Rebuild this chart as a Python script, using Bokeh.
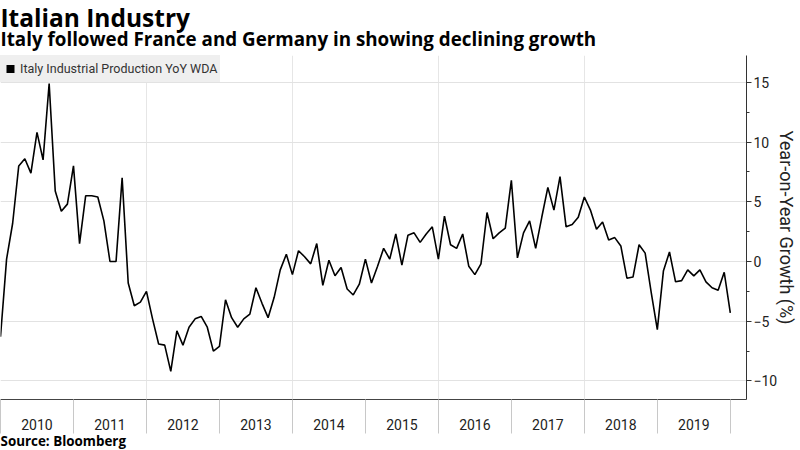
from bokeh.plotting import figure
from bokeh.models import (Range1d, FixedTicker, Title, Legend, LegendItem,
                          ColumnDataSource)
from bokeh.embed import file_html
from bokeh.resources import INLINE

# Italy industrial production, year-on-year growth (%), monthly,
# Dec 2009 through Dec 2019 (each value placed at its month end)
start_year = 2010
values = [
    -6.3, 0.2, 3.2, 8.0, 8.6, 7.4, 10.8, 8.5, 14.9, 5.9, 4.2, 4.8,
    8.0, 1.5, 5.5, 5.5, 5.4, 3.4, 0.0, 0.0, 7.0, -1.8, -3.7, -3.4,
    -2.5, -4.8, -6.9, -7.0, -9.2, -5.8, -7.0, -5.5, -4.8, -4.6, -5.5, -7.5,
    -7.1, -3.2, -4.7, -5.5, -4.8, -4.4, -2.2, -3.5, -4.7, -3.0, -0.7, 0.6,
    -1.1, 0.9, 0.4, -0.2, 1.5, -2.0, 0.1, -1.2, -0.5, -2.3, -2.8, -1.9,
    0.2, -1.8, -0.4, 1.1, 0.2, 2.3, -0.3, 2.2, 2.4, 1.6, 2.3, 2.9,
    0.2, 3.8, 1.4, 1.1, 2.3, -0.4, -1.1, -0.2, 4.1, 1.9, 2.4, 2.8,
    6.8, 0.3, 2.4, 3.4, 1.1, 3.7, 6.2, 4.3, 7.1, 2.9, 3.1, 3.7,
    5.4, 4.3, 2.7, 3.3, 1.8, 2.0, 1.3, -1.4, -1.3, 1.4, 0.7, -2.6,
    -5.7, -0.8, 0.8, -1.7, -1.6, -0.7, -1.2, -0.7, -1.7, -2.2, -2.4, -0.9,
    -4.3,
]
years = list(range(2010, 2020))
year_labels = [str(y) for y in years]
y_ticks = [-10, -5, 0, 5, 10, 15]
y_minor_ticks = [-7.5, -2.5, 2.5, 7.5, 12.5]
series_name = "Italy Industrial Production YoY WDA"
title_text = "Italian Industry"
subtitle_text = "Italy followed France and Germany in showing declining growth"
source_text = "Source: Bloomberg"

source = ColumnDataSource(data=dict(
    x=[start_year + i / 12 for i in range(len(values))],
    y=values,
))

p = figure(width=800, height=450, output_backend="svg", toolbar_location=None,
           x_range=Range1d(2010.0, 2020.222), y_range=Range1d(-11.55, 17.24),
           y_axis_location="right",
           min_border_left=0, min_border_right=53,
           min_border_top=55, min_border_bottom=51,
           background_fill_color="white", border_fill_color="white")
p.outline_line_color = None

# year labels centred between long boundary ticks
xa = p.xaxis[0]
mids = [y + 0.5 for y in years]
xa.ticker = FixedTicker(ticks=mids, minor_ticks=list(range(2010, 2021)))
xa.major_label_overrides = {m: lab for m, lab in zip(mids, year_labels)}
xa.major_tick_out = 0
xa.major_tick_in = 0
xa.minor_tick_out = 34
xa.minor_tick_in = 0
xa.minor_tick_line_color = "#c8c8c8"
xa.axis_line_color = "#444444"
xa.major_label_standoff = -15
xa.major_label_text_font = "Roboto"
xa.major_label_text_font_size = "14px"
xa.major_label_text_color = "#222222"

ya = p.yaxis[0]
ya.ticker = FixedTicker(ticks=y_ticks, minor_ticks=y_minor_ticks)
ya.major_tick_out = 5
ya.major_tick_in = 0
ya.minor_tick_out = 3
ya.minor_tick_in = 0
ya.major_tick_line_color = "#333333"
ya.minor_tick_line_color = "#333333"
ya.axis_line_color = "#333333"
ya.major_label_standoff = 2
ya.major_label_text_font = "Roboto"
ya.major_label_text_font_size = "14px"
ya.major_label_text_color = "#222222"
ya.axis_label = "Year-on-Year Growth (%)"
ya.axis_label_text_font = "Roboto"
ya.axis_label_text_font_style = "normal"
ya.axis_label_text_font_size = "18px"
ya.axis_label_text_color = "#222222"
ya.axis_label_standoff = -4

p.xgrid.ticker = FixedTicker(ticks=[2012, 2014, 2016, 2018])
p.xgrid.grid_line_color = "#e6e6e6"
p.ygrid.grid_line_color = "#e2e2e2"

p.line("x", "y", source=source, line_color="black", line_width=1.6)

# hidden square markers on the same data, used only for the legend swatch
swatch = p.scatter("x", "y", source=source, marker="square", size=8,
                   fill_color="black", line_color=None, visible=False)
legend = Legend(items=[LegendItem(label=series_name, renderers=[swatch])],
                location="top_left", margin=0, padding=0, spacing=0,
                glyph_width=20, glyph_height=27, label_standoff=0,
                label_height=27, label_width=200, label_text_font="Roboto",
                label_text_font_size="12.5px", label_text_color="#333333",
                background_fill_color="#efefef", background_fill_alpha=1,
                border_line_color=None)
p.add_layout(legend)

# headline and subtitle above the frame, credit under the axis
head = dict(align="left", offset=0, text_font="Open Sans",
            text_font_style="bold", text_color="black")
p.add_layout(Title(text=subtitle_text, vertical_align="bottom", standoff=8,
                   text_font_size="18.8px", **head), "above")
p.add_layout(Title(text=title_text, vertical_align="bottom", standoff=-29,
                   text_font_size="24.5px", **head), "above")
p.add_layout(Title(text=source_text, vertical_align="middle", standoff=-4,
                   text_font_size="13.4px", **head), "below")

open("out.html", "w").write(file_html(p, INLINE))
